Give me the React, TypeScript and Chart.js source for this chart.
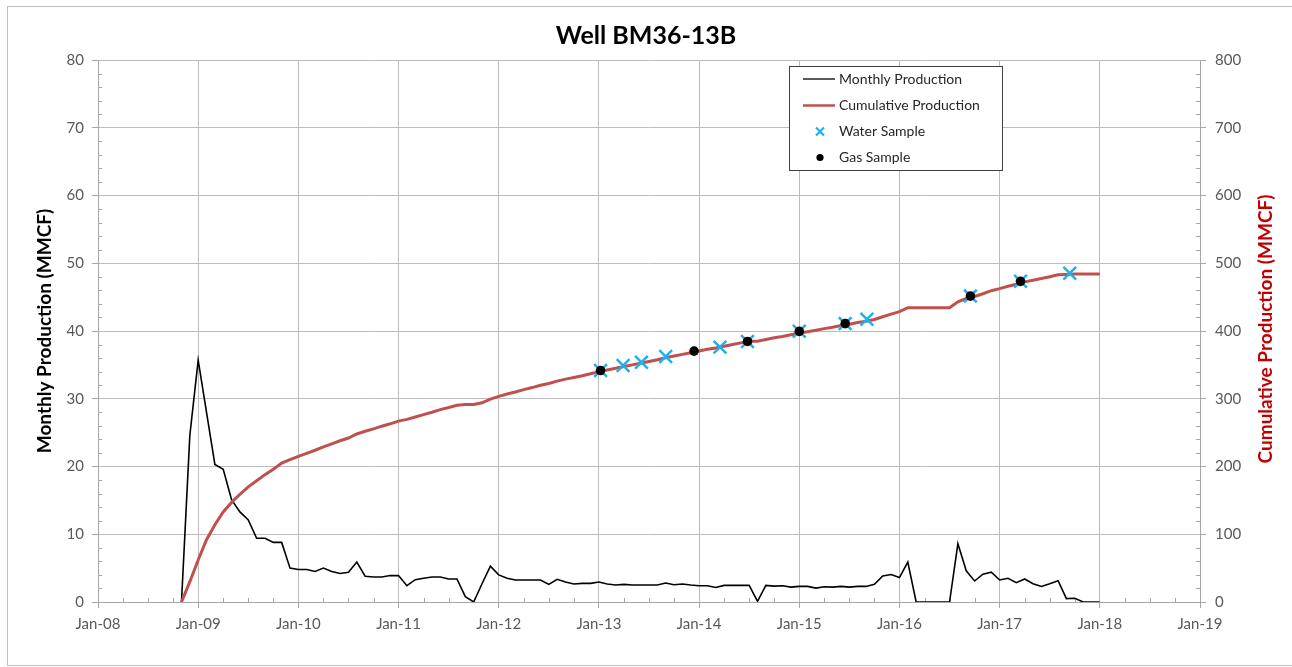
import React, { useEffect, useRef } from "react";
import { Chart, registerables } from "chart.js";
Chart.register(...registerables);

// Months are counted from Jan-08 (0). Monthly series starts Nov-08.
const FIRST_MONTH = 10;

const monthlyProduction = [
  0, 24.6,
  35.7, 28, 20.3, 19.6, 15.1, 13.3, 12.1, 9.4, 9.4, 8.8, 8.8, 5.0,
  4.8, 4.8, 4.5, 5.0, 4.5, 4.2, 4.4, 5.9, 3.8, 3.7, 3.7, 3.9,
  3.9, 2.4, 3.3, 3.5, 3.7, 3.7, 3.4, 3.4, 0.8, 0, 2.7, 5.3,
  4.0, 3.5, 3.25, 3.25, 3.25, 3.25, 2.6, 3.35, 2.95, 2.65, 2.75, 2.75,
  2.95, 2.65, 2.5, 2.6, 2.5, 2.5, 2.5, 2.5, 2.8, 2.55, 2.65, 2.5,
  2.4, 2.4, 2.15, 2.45, 2.45, 2.45, 2.45, 0.1, 2.45, 2.35, 2.4, 2.2,
  2.3, 2.3, 2.05, 2.25, 2.2, 2.3, 2.2, 2.3, 2.3, 2.6, 3.85, 4.05,
  3.6, 5.9, 0, 0, 0, 0, 0, 8.6, 4.6, 3.1, 4.1, 4.4,
  3.25, 3.5, 2.85, 3.4, 2.7, 2.3, 2.7, 3.15, 0.5, 0.55, 0, 0,
  0,
];

const cumulativeProduction = [
  0, 30,
  62, 92, 114, 133, 147, 159, 170, 179, 188, 196, 205, 210,
  215, 219.5, 224, 229, 233.5, 238, 242, 248, 252, 255.5, 259.5, 263,
  267, 269.5, 273, 276.5, 280, 284, 287, 290.5, 291.5, 291.5, 294, 299.5,
  303.5, 307, 310, 313.5, 316.5, 320, 322.5, 326, 329, 331.5, 334, 337,
  340, 342.5, 345, 347.5, 350, 352.5, 355, 357.5, 360.5, 363, 365.5, 368,
  370.5, 373, 375, 377.5, 380, 382.5, 385, 385, 387.5, 390, 392, 394.5,
  397, 399, 401, 403.5, 405.5, 408, 410, 412.5, 414.5, 417, 421, 425,
  428.5, 434.5, 434.5, 434.5, 434.5, 434.5, 434.5, 443, 448, 451, 455, 459.5,
  462.5, 466, 469, 472.5, 475, 477.5, 480, 483, 483.5, 484, 484, 484,
  484,
];

const waterSampleMonths = [60.2, 62.9, 65.1, 68.0, 74.5, 77.8, 84.0, 89.5, 92.1, 104.5, 110.5, 116.4];
const waterSampleValues = [341.6, 349, 354, 362.4, 376.2, 384.6, 399.5, 410.9, 417.3, 451.5, 473.3, 485.1];

const gasSampleMonths = [60.2, 71.4, 77.8, 84.0, 89.5, 104.5, 110.5];
const gasSampleValues = [341.6, 370.3, 384.6, 399.5, 410.9, 451.5, 473.3];

const xTickLabels = [
  "Jan-08", "Jan-09", "Jan-10", "Jan-11", "Jan-12", "Jan-13",
  "Jan-14", "Jan-15", "Jan-16", "Jan-17", "Jan-18", "Jan-19",
];

const RIGHT_TITLE = "Cumulative Production (MMCF)";

const FAMILY = "Lato, 'Open Sans', sans-serif";
const TICK_FONT = { family: FAMILY, size: 15 };
const TICK_COLOR = "#595959";
const GRID_COLOR = "#bcbcbc";
const AXIS_COLOR = "#a6a6a6";
const RED = "#c0504d";
const BLUE = "#1eb1ec";

const minorTicksPlugin = {
  id: "minorTicks",
  beforeDatasetsDraw(chart: any) {
    const { ctx, scales } = chart;
    const x = scales.x, yL = scales.y, yR = scales.y2;
    ctx.save();
    ctx.strokeStyle = AXIS_COLOR;
    ctx.lineWidth = 1;
    ctx.beginPath();
    for (let m = 3; m < 132; m += 3) {
      if (m % 12 === 0) continue;
      const px = Math.round(x.getPixelForValue(m)) + 0.5;
      ctx.moveTo(px, yL.bottom);
      ctx.lineTo(px, yL.bottom - 4);
    }
    for (let v = 2; v < 80; v += 2) {
      if (v % 10 === 0) continue;
      const py = Math.round(yL.getPixelForValue(v)) + 0.5;
      ctx.moveTo(x.left, py);
      ctx.lineTo(x.left + 4, py);
    }
    for (let v = 20; v < 800; v += 20) {
      if (v % 100 === 0) continue;
      const py = Math.round(yR.getPixelForValue(v)) + 0.5;
      ctx.moveTo(x.right, py);
      ctx.lineTo(x.right - 4, py);
    }
    ctx.stroke();
    ctx.restore();
  },
};

// Right axis title, rotated the same way as the left one (reading bottom-to-top)
const rightTitlePlugin = {
  id: "rightTitle",
  afterDraw(chart: any) {
    const { ctx, chartArea } = chart;
    ctx.save();
    ctx.translate(1266, (chartArea.top + chartArea.bottom) / 2 - 2);
    ctx.rotate(-Math.PI / 2);
    ctx.font = `bold 19px ${FAMILY}`;
    ctx.fillStyle = "#c00000";
    ctx.textAlign = "center";
    ctx.textBaseline = "middle";
    ctx.fillText(RIGHT_TITLE, 0, 0);
    ctx.restore();
  },
};

const legendBoxPlugin = {
  id: "legendBox",
  afterDraw(chart: any) {
    const { ctx } = chart;
    const ds = chart.data.datasets;
    const byId = (id: string) => ds.find((d: any) => d.id === id);
    const items = ["monthly", "cumulative", "water", "gas"].map(byId);
    const left = 789.5, top = 66.5, w = 213, h = 104;
    ctx.save();
    ctx.fillStyle = "#ffffff";
    ctx.fillRect(left, top, w, h);
    ctx.strokeStyle = "#404040";
    ctx.lineWidth = 1;
    ctx.strokeRect(left, top, w, h);
    ctx.font = `14px ${FAMILY}`;
    ctx.textBaseline = "middle";
    ctx.textAlign = "left";
    const rows = [79, 105.5, 131.5, 157.5];
    items.forEach((d: any, i: number) => {
      const y = rows[i];
      if (d.id === "monthly" || d.id === "cumulative") {
        ctx.strokeStyle = d.borderColor;
        ctx.lineWidth = d.id === "monthly" ? 1.3 : 2.5;
        ctx.beginPath();
        ctx.moveTo(803, y);
        ctx.lineTo(835, y);
        ctx.stroke();
      } else if (d.id === "water") {
        ctx.strokeStyle = d.pointBorderColor;
        ctx.lineWidth = 2.2;
        ctx.beginPath();
        ctx.moveTo(816, y - 4);
        ctx.lineTo(824, y + 4);
        ctx.moveTo(824, y - 4);
        ctx.lineTo(816, y + 4);
        ctx.stroke();
      } else {
        ctx.fillStyle = d.pointBackgroundColor;
        ctx.beginPath();
        ctx.arc(820, y, 3.6, 0, Math.PI * 2);
        ctx.fill();
      }
      ctx.fillStyle = "#262626";
      ctx.fillText(d.label, 839, y);
    });
    ctx.restore();
  },
};

export default function App() {
  const canvasRef = useRef<HTMLCanvasElement | null>(null);

  useEffect(() => {
    if (!canvasRef.current) return;
    const monthlyPts = monthlyProduction.map((v, i) => ({ x: FIRST_MONTH + i, y: v }));
    const cumPts = cumulativeProduction.map((v, i) => ({ x: FIRST_MONTH + i, y: v }));
    const waterPts = waterSampleMonths.map((m, i) => ({ x: m, y: waterSampleValues[i] }));
    const gasPts = gasSampleMonths.map((m, i) => ({ x: m, y: gasSampleValues[i] }));

    const chart = new Chart(canvasRef.current, {
      type: "line",
      data: {
        datasets: [
          {
            id: "gas",
            label: "Gas Sample",
            data: gasPts,
            yAxisID: "y2",
            showLine: false,
            pointStyle: "circle",
            pointRadius: 4.8,
            pointBackgroundColor: "#000000",
            pointBorderColor: "#000000",
            pointBorderWidth: 0,
            order: 1,
          },
          {
            id: "water",
            label: "Water Sample",
            data: waterPts,
            yAxisID: "y2",
            showLine: false,
            pointStyle: "crossRot",
            pointRadius: 9,
            pointBorderColor: BLUE,
            pointBackgroundColor: BLUE,
            pointBorderWidth: 2.5,
            order: 2,
          },
          {
            id: "cumulative",
            label: "Cumulative Production",
            data: cumPts,
            yAxisID: "y2",
            borderColor: RED,
            borderWidth: 3,
            pointRadius: 0,
            tension: 0,
            order: 3,
          },
          {
            id: "monthly",
            label: "Monthly Production",
            data: monthlyPts,
            yAxisID: "y",
            borderColor: "#000000",
            borderWidth: 1.6,
            pointRadius: 0,
            tension: 0,
            order: 4,
          },
        ] as any,
      },
      options: {
        responsive: false,
        animation: false,
        layout: { padding: { left: 0, right: 0, top: 0, bottom: 0 } },
        plugins: {
          legend: { display: false },
          tooltip: { enabled: false },
          title: {
            display: true,
            text: "Well BM36-13B",
            color: "#000000",
            font: { family: FAMILY, size: 25, weight: "bold" },
            padding: { top: 21, bottom: 9 },
          },
        },
        scales: {
          x: {
            type: "linear",
            min: 0,
            max: 132,
            ticks: {
              stepSize: 12,
              color: TICK_COLOR,
              font: TICK_FONT,
              padding: 7,
              maxRotation: 0,
              autoSkip: false,
              callback: (v: any) => xTickLabels[Math.round(Number(v) / 12)] ?? "",
            },
            grid: { color: GRID_COLOR, lineWidth: 1, tickLength: 6, tickColor: AXIS_COLOR },
            border: { color: AXIS_COLOR },
            afterFit: (s: any) => { s.height = 65; },
          },
          y: {
            type: "linear",
            position: "left",
            min: 0,
            max: 80,
            ticks: { stepSize: 10, color: TICK_COLOR, font: TICK_FONT, padding: 8 },
            grid: { color: GRID_COLOR, lineWidth: 1, tickLength: 6, tickColor: AXIS_COLOR },
            border: { color: AXIS_COLOR },
            title: {
              display: true,
              text: "Monthly Production (MMCF)",
              color: "#000000",
              font: { family: FAMILY, size: 19, weight: "bold" },
              padding: { top: 33, bottom: 0 },
            },
            afterFit: (s: any) => { s.width = 98; },
          },
          y2: {
            type: "linear",
            position: "right",
            min: 0,
            max: 800,
            ticks: { stepSize: 100, color: TICK_COLOR, font: TICK_FONT, padding: 9 },
            grid: { drawOnChartArea: false, tickLength: 6, tickColor: AXIS_COLOR },
            border: { color: AXIS_COLOR },
            title: { display: false },
            afterFit: (s: any) => { s.width = 92; },
          },
        },
      } as any,
      plugins: [minorTicksPlugin, legendBoxPlugin, rightTitlePlugin],
    });
    return () => chart.destroy();
  }, []);

  return (
    <div style={{ position: "fixed", left: 0, top: 0, width: 1292, height: 667, background: "#ffffff", overflow: "hidden" }}>
      <div
        style={{
          position: "absolute",
          left: 7,
          top: 6,
          width: 1300,
          height: 660,
          border: "1px solid #bfbfbf",
          boxSizing: "border-box",
        }}
      />
      <canvas ref={canvasRef} width={1292} height={667} style={{ position: "absolute", left: 0, top: 0 }} />
    </div>
  );
}
